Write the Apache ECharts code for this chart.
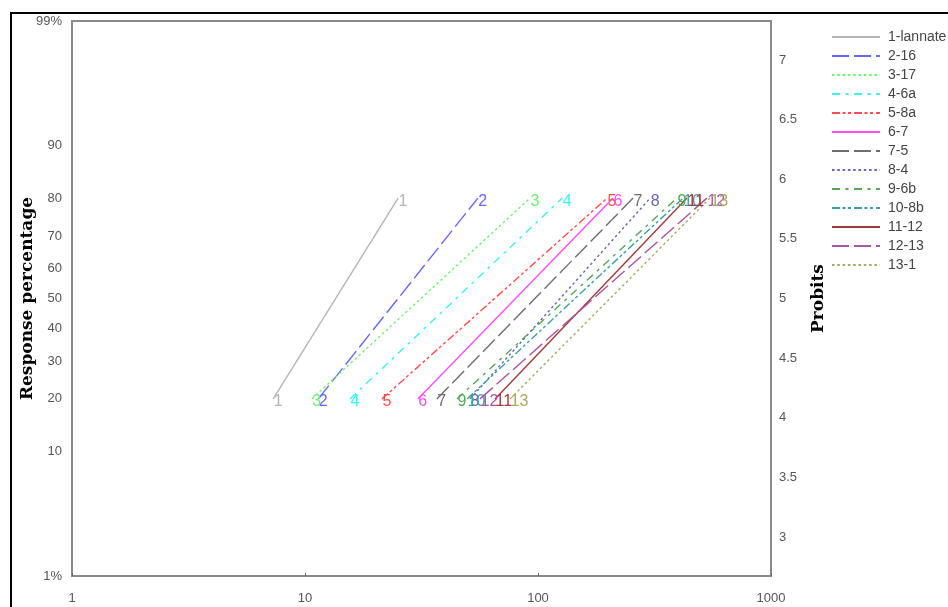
<!DOCTYPE html>
<html>
<head>
<meta charset="utf-8">
<title>Probit lines</title>
<script src="https://cdn.jsdelivr.net/npm/echarts@6/dist/echarts.min.js"></script>
<style>
    html, body { margin: 0; padding: 0; background: #fff; }
    #chart { width: 948px; height: 607px; }
</style>
</head>
<body>
<div id="chart"></div>
<script>
// Line names (legend)
const lineNames = ['1-lannate', '2-16', '3-17', '4-6a', '5-8a', '6-7', '7-5', '8-4', '9-6b', '10-8b', '11-12', '12-13', '13-1'];

// Dose at 20% and 80% response
const dose20 = [7.3, 11.4, 10.7, 15.6, 21.4, 30.5, 36.8, 51.1, 44.9, 49.6, 65.4, 56.4, 75.9];
const dose80 = [25.1, 55.2, 92.4, 127, 198, 210, 256, 303, 395, 419, 436, 531, 547];

// Probit values of the two response levels
const probit20 = 4.1584;
const probit80 = 5.8416;

// Left axis: response percentage labels and their probit positions
const pctLabels = ['1%', '10', '20', '30', '40', '50', '60', '70', '80', '90', '99%'];
const pctProbits = [2.6737, 3.7184, 4.1584, 4.4756, 4.7467, 5, 5.2533, 5.5244, 5.8416, 6.2816, 7.3263];

// Right axis: probit ticks
const probitTicks = [3, 3.5, 4, 4.5, 5, 5.5, 6, 6.5, 7];

// X axis ticks
const doseTicks = [1, 10, 100, 1000];

const colors = ['#b5b5b5', '#6666ff', '#6ff06f', '#3cf2f2', '#ff4d4d', '#ff4dff', '#6e6e6e',
    '#6464b8', '#55a855', '#3fa0a0', '#a03a3a', '#a855a8', '#a8a860'];

const dashLong = [17, 5];
const dotted = [2.5, 2.8];
const dashDot = [8, 5.5, 3, 5.5];
const dashDotDot = [8, 2.5, 3, 2.5, 3, 3];
const lineTypes = ['solid', dashLong, dotted, dashDot, dashDotDot, 'solid', dashLong,
    dotted, dashDot, dashDotDot, 'solid', dashLong, dotted];

const chart = echarts.init(document.getElementById('chart'), null, { renderer: 'canvas' });

const axisColor = '#8a8a8a';
const labelColor = '#555';
const sans = 'Arial, Liberation Sans, sans-serif';

const series = lineNames.map((name, i) => ({
    name,
    type: 'line',
    yAxisIndex: 0,
    symbol: 'circle',
    symbolSize: 1,
    showSymbol: true,
    data: [[dose20[i], probit20], [dose80[i], probit80]],
    lineStyle: { color: colors[i], width: 1.4, type: lineTypes[i] },
    itemStyle: { color: 'rgba(0,0,0,0)', borderWidth: 0 },
    label: {
        show: true,
        position: 'right',
        distance: 0,
        offset: [0, 3],
        formatter: String(i + 1),
        color: colors[i],
        fontFamily: sans,
        fontSize: 16
    },
    emphasis: { disabled: true },
    animation: false
}));

const option = {
    backgroundColor: '#fff',
    animation: false,
    graphic: [{
        type: 'rect',
        shape: { x: 11, y: 13, width: 1000, height: 700 },
        style: { fill: 'none', stroke: '#000', lineWidth: 2 },
        z: 100
    }],
    grid: {
        left: 72,
        right: 177,
        top: 21,
        bottom: 31,
        show: true,
        borderColor: axisColor,
        borderWidth: 2
    },
    legend: {
        orient: 'vertical',
        left: 826,
        top: 25,
        itemWidth: 48,
        itemHeight: 10,
        itemGap: 5,
        data: lineNames,
        itemStyle: { opacity: 0 },
        textStyle: {
            color: '#444',
            fontFamily: sans,
            fontSize: 14,
            padding: [0, 0, 0, 3]
        }
    },
    xAxis: {
        type: 'log',
        logBase: 10,
        min: 1,
        max: 1000,
        axisLine: { show: true, lineStyle: { color: axisColor, width: 2 } },
        axisTick: { show: true, inside: true, length: 3, lineStyle: { color: '#666' }, customValues: doseTicks },
        axisLabel: {
            color: labelColor,
            fontFamily: sans,
            fontSize: 13,
            margin: 16,
            customValues: doseTicks,
            formatter: (value) => String(Math.round(value))
        },
        splitLine: { show: false }
    },
    yAxis: [{
        type: 'value',
        position: 'right',
        min: pctProbits[0],
        max: pctProbits[pctProbits.length - 1],
        name: 'Probits',
        nameLocation: 'middle',
        nameRotate: 90,
        nameGap: 39,
        nameMoveOverlap: false,
        nameTextStyle: {
            fontFamily: 'DejaVu Serif, serif',
            fontWeight: 'bold',
            fontSize: 17,
            color: '#000'
        },
        axisLine: { show: true, lineStyle: { color: axisColor, width: 2 } },
        axisTick: { show: false },
        axisLabel: {
            color: labelColor,
            fontFamily: sans,
            fontSize: 13,
            margin: 8,
            customValues: probitTicks
        },
        splitLine: { show: false }
    }, {
        type: 'value',
        position: 'left',
        min: pctProbits[0],
        max: pctProbits[pctProbits.length - 1],
        name: 'Response percentage',
        nameLocation: 'middle',
        nameRotate: 90,
        nameGap: 36,
        nameMoveOverlap: false,
        nameTextStyle: {
            fontFamily: 'DejaVu Serif, serif',
            fontWeight: 'bold',
            fontSize: 17,
            color: '#000'
        },
        axisLine: { show: true, lineStyle: { color: axisColor, width: 2 } },
        axisTick: { show: false },
        axisLabel: {
            color: labelColor,
            fontFamily: sans,
            fontSize: 13,
            margin: 10,
            customValues: pctProbits,
            formatter: (value) => {
                const idx = pctProbits.findIndex(p => Math.abs(p - value) < 1e-6);
                return idx >= 0 ? pctLabels[idx] : '';
            }
        },
        splitLine: { show: false }
    }],
    series
};

chart.setOption(option);
</script>
</body>
</html>
